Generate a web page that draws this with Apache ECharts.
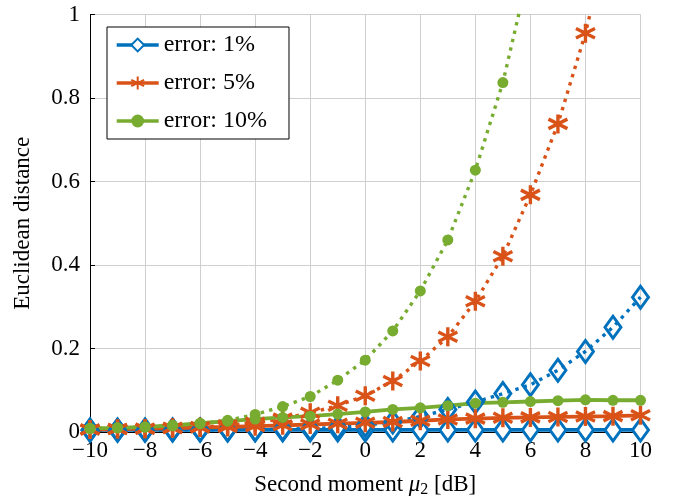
<!DOCTYPE html>
<html><head><meta charset="utf-8">
<script src="https://cdn.jsdelivr.net/npm/echarts@6/dist/echarts.min.js"></script>
<style>html,body{margin:0;padding:0;background:#fff}#c{width:683px;height:500px}</style>
</head><body><div id="c"></div>
<script>
const xs = [-10,-9,-8,-7,-6,-5,-4,-3,-2,-1,0,1,2,3,4,5,6,7,8,9,10];
const xTicks = [-10,-8,-6,-4,-2,0,2,4,6,8,10];
const yTicks = [0,0.2,0.4,0.6,0.8,1];
const legendNames = ['error: 1%','error: 5%','error: 10%'];
// solid curves
const blueSolid   = [0.005,0.005,0.005,0.005,0.005,0.005,0.005,0.005,0.005,0.005,0.005,0.005,0.005,0.005,0.005,0.005,0.005,0.005,0.005,0.005,0.005];
const orangeSolid = [0.006,0.007,0.008,0.009,0.011,0.012,0.014,0.016,0.018,0.020,0.022,0.024,0.027,0.030,0.032,0.034,0.035,0.036,0.037,0.038,0.040];
const greenSolid  = [0.009,0.010,0.012,0.016,0.021,0.026,0.031,0.035,0.038,0.043,0.048,0.054,0.058,0.063,0.069,0.071,0.073,0.075,0.077,0.076,0.076];
// dotted curves
const blueDotted   = [0.004,0.004,0.004,0.005,0.005,0.005,0.006,0.007,0.008,0.011,0.016,0.024,0.037,0.054,0.072,0.092,0.113,0.148,0.193,0.251,0.323];
const orangeDotted = [0.006,0.007,0.008,0.010,0.012,0.016,0.022,0.032,0.046,0.063,0.087,0.122,0.170,0.228,0.313,0.421,0.568,0.738,0.955,1.23];
const greenDotted  = [0.008,0.010,0.012,0.015,0.020,0.028,0.042,0.061,0.085,0.124,0.172,0.242,0.338,0.460,0.627,0.837,1.12];

const C = {blue:'#0072BD', orange:'#D95319', green:'#77AC30'};
const diamond = 'path://M0,-1.25L0.9,0L0,1.25L-0.9,0Z';
const star = 'path://M0,-1L0,1M-0.866,-0.5L0.866,0.5M-0.866,0.5L0.866,-0.5';
const pair = arr => arr.map((v,i)=>[xs[i], v]);
const font = 'Liberation Serif';

function mk(name, data, color, symbol, size, dotted, itemStyle){
  return {
    name, type:'line', data: pair(data), symbol, symbolSize: size,
    symbolKeepAspect: false,
    lineStyle:{color, width: dotted?3.4:3.8, type: dotted?[3.4,5.2]:'solid'},
    itemStyle, emphasis:{disabled:true}, animation:false, clip:true
  };
}

const series = [
  mk(legendNames[0], blueSolid, C.blue, diamond, [16,22], false, {color:'#fff', borderColor:C.blue, borderWidth:3}),
  mk('d1', blueDotted, C.blue, diamond, [16,22], true, {color:'rgba(0,0,0,0)', borderColor:C.blue, borderWidth:3}),
  mk(legendNames[1], orangeSolid, C.orange, star, [19,19], false, {color:C.orange, borderColor:C.orange, borderWidth:3.4}),
  mk('d5', orangeDotted, C.orange, star, [19,19], true, {color:C.orange, borderColor:C.orange, borderWidth:3.4}),
  mk(legendNames[2], greenSolid, C.green, 'circle', 11, false, {color:C.green, borderWidth:0}),
  mk('d10', greenDotted, C.green, 'circle', 11, true, {color:C.green, borderWidth:0})
];

const chart = echarts.init(document.getElementById('c'), null, {renderer:'canvas'});
chart.setOption({
  backgroundColor:'#fff',
  animation:false,
  grid:{left:90, right:42.5, top:14.5, bottom:68, show:false, containLabel:false, outerBoundsMode:'none'},
  legend:{
    data: legendNames, orient:'vertical', left:107, top:27,
    padding:[6,22,6,8], itemGap:14, itemWidth:42, itemHeight:16,
    borderColor:'#000', borderWidth:1, backgroundColor:'#fff',
    lineStyle:{width:3.4},
    textStyle:{fontFamily:font, fontSize:24, color:'#000', padding:[0,0,0,0]},
    selectedMode:false
  },
  xAxis:{
    type:'value', min:-10, max:10, interval:2,
    name:'Second moment {i|μ}{s|2} [dB]', nameLocation:'middle', nameGap:40,
    nameTextStyle:{fontFamily:font, fontSize:23, color:'#000',
      rich:{i:{fontFamily:font, fontStyle:'italic', fontSize:23, color:'#000'},
            s:{fontFamily:font, fontSize:16, color:'#000', verticalAlign:'bottom', padding:[10,0,0,0]}}},
    axisLine:{show:true, onZero:false, lineStyle:{color:'#000', width:1}},
    axisTick:{show:true, inside:true, length:5, lineStyle:{color:'#000'}},
    axisLabel:{fontFamily:font, fontSize:23, color:'#000', margin:7,
      customValues: xTicks,
      formatter: v => v<0 ? '\u2212'+(-v) : String(v)},
    splitLine:{show:true, lineStyle:{color:'#cfcfcf', width:1}}
  },
  yAxis:{
    type:'value', min:0, max:1, interval:0.2,
    name:'Euclidean distance', nameLocation:'middle', nameGap:56,
    nameTextStyle:{fontFamily:font, fontSize:23, color:'#000'},
    axisLine:{show:true, onZero:false, lineStyle:{color:'#000', width:1}},
    axisTick:{show:true, inside:true, length:5, lineStyle:{color:'#000'}},
    axisLabel:{fontFamily:font, fontSize:23, color:'#000', margin:10,
      customValues: yTicks,
      formatter: v => String(+v.toFixed(1))},
    splitLine:{show:true, lineStyle:{color:'#cfcfcf', width:1}}
  },
  series
});
</script></body></html>
